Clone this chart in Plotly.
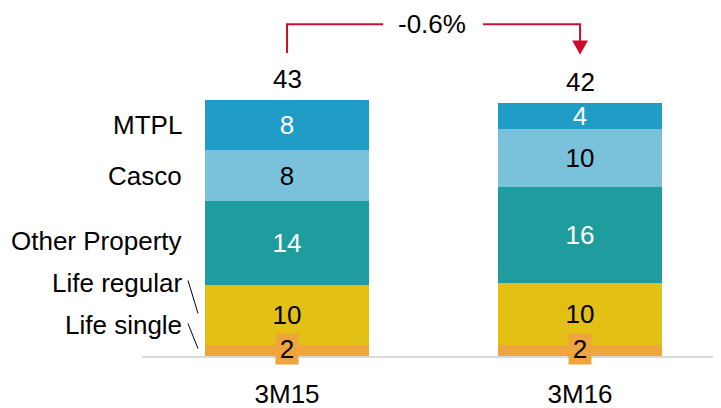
import plotly.graph_objects as go

periods = ["3M15", "3M16"]
series = ["Life single", "Life regular", "Other Property", "Casco", "MTPL"]
values = {
    "Life single": [1.8, 1.8],
    "Life regular": [10.0, 10.3],
    "Other Property": [14.0, 16.0],
    "Casco": [8.5, 9.8],
    "MTPL": [8.3, 4.3],
}
labels = {
    "Life single": ["2", "2"],
    "Life regular": ["10", "10"],
    "Other Property": ["14", "16"],
    "Casco": ["8", "10"],
    "MTPL": ["8", "4"],
}
totals = ["43", "42"]
change = "-0.6%"

colors = {
    "Life single": "#F0A43D",
    "Life regular": "#E2C014",
    "Other Property": "#1F9C9E",
    "Casco": "#7AC2DC",
    "MTPL": "#1F9DC7",
}
text_colors = {
    "Life single": "black",
    "Life regular": "black",
    "Other Property": "white",
    "Casco": "black",
    "MTPL": "white",
}

FONT = "Liberation Sans, Arial, sans-serif"
FS = 26

fig = go.Figure()
for s in series:
    fig.add_trace(go.Bar(
        x=periods, y=values[s], name=s,
        marker=dict(color=colors[s], line=dict(width=0)),
        text=labels[s] if s != "Life single" else None,
        textposition="inside", insidetextanchor="middle",
        textangle=0, constraintext="none",
        textfont=dict(color=text_colors[s], size=FS, family=FONT),
        width=0.56, hoverinfo="skip",
    ))

sums = [sum(values[s][i] for s in series) for i in range(2)]

# totals above bars
for i, t in enumerate(totals):
    fig.add_annotation(x=i, y=sums[i], text=t, showarrow=False, yanchor="bottom",
                       yshift=4, font=dict(size=FS, color="black", family=FONT))

# Life single labels sit in a small box over the thin segment
for i in range(2):
    fig.add_annotation(x=i, y=values["Life single"][i] / 2 + 0.35, text=labels["Life single"][i],
                       showarrow=False, bgcolor=colors["Life single"], borderpad=0,
                       width=22, height=30,
                       font=dict(size=FS, color="black", family=FONT))

# legend labels on the left
cum = 0
mids = {}
for s in series:
    mids[s] = cum + values[s][0] / 2
    cum += values[s][0]
label_y = {
    "MTPL": mids["MTPL"],
    "Casco": mids["Casco"],
    "Other Property": mids["Other Property"] + 0.4,
    "Life regular": 12.25,
    "Life single": 5.1,
}
for s in series:
    fig.add_annotation(x=-0.35, y=label_y[s], text=s, showarrow=False, xanchor="right",
                       font=dict(size=FS, color="black", family=FONT))

# leader lines
fig.add_shape(type="line", x0=-0.338, y0=12.6, x1=-0.304, y1=7.1,
              line=dict(color="black", width=1))
fig.add_shape(type="line", x0=-0.338, y0=5.4, x1=-0.304, y1=1.25,
              line=dict(color="black", width=1))

# change arrow
red = "#C8102E"
fig.add_shape(type="path", path="M 0 50.5 L 0 55.3 L 0.328 55.3",
              line=dict(color=red, width=2))
fig.add_shape(type="path", path="M 0.669 55.3 L 1 55.3 L 1 52.4",
              line=dict(color=red, width=2))
fig.add_shape(type="path", path="M 0.973 52.6 L 1.027 52.6 L 1 50.2 Z",
              fillcolor=red, line=dict(color=red, width=0))
fig.add_annotation(x=0.495, y=55.3, text=change, showarrow=False,
                   font=dict(size=FS, color="black", family=FONT))

fig.update_layout(
    barmode="stack", width=713, height=400,
    margin=dict(l=134, r=0, t=0, b=52),
    plot_bgcolor="white", paper_bgcolor="white",
    showlegend=False, bargap=0,
    xaxis=dict(range=[-0.495, 1.481], showline=True, linecolor="#D9D9D9", linewidth=2,
               showgrid=False, zeroline=False, ticks="", ticklabelstandoff=14,
               tickfont=dict(size=FS, color="black", family=FONT)),
    yaxis=dict(range=[0, 58.0], visible=False, showgrid=False, zeroline=False),
)

fig.write_html("out.html")
